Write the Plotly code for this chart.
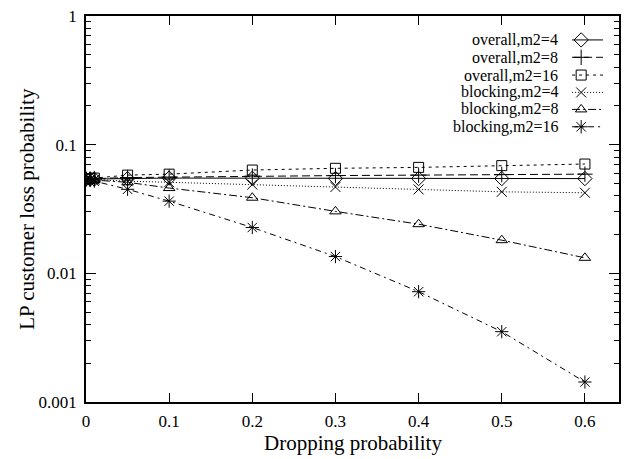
import plotly.graph_objects as go

# ---- data ----
drop_prob = [0, 0.005, 0.01, 0.05, 0.1, 0.2, 0.3, 0.4, 0.5, 0.6]
overall_m2_4 = [0.054, 0.054, 0.054, 0.0545, 0.055, 0.0548, 0.0546, 0.0545, 0.0545, 0.0545]
overall_m2_8 = [0.054, 0.054, 0.0545, 0.0555, 0.056, 0.057, 0.0575, 0.058, 0.0585, 0.059]
overall_m2_16 = [0.054, 0.0545, 0.055, 0.058, 0.059, 0.0635, 0.0655, 0.0666, 0.0687, 0.0707]
blocking_m2_4 = [0.054, 0.0538, 0.0535, 0.052, 0.051, 0.049, 0.0469, 0.0449, 0.043, 0.0423]
blocking_m2_8 = [0.054, 0.0535, 0.053, 0.051, 0.046, 0.0387, 0.0303, 0.0241, 0.0181, 0.0132]
blocking_m2_16 = [0.054, 0.053, 0.052, 0.045, 0.0364, 0.0227, 0.0135, 0.0072, 0.00352, 0.00143]

series_names = ["overall,m2=4", "overall,m2=8", "overall,m2=16",
                "blocking,m2=4", "blocking,m2=8", "blocking,m2=16"]
series_values = [overall_m2_4, overall_m2_8, overall_m2_16,
                 blocking_m2_4, blocking_m2_8, blocking_m2_16]

x_tick_vals = [0, 0.1, 0.2, 0.3, 0.4, 0.5, 0.6]
x_tick_text = ["0", "0.1", "0.2", "0.3", "0.4", "0.5", "0.6"]
y_tick_vals = [0.001, 0.01, 0.1, 1]
y_tick_text = ["0.001", "0.01", "0.1", "1"]

# ---- styles ----
symbols = ["diamond-open", "cross-thin-open", "square-open",
           "x-thin-open", "triangle-up-open", "asterisk-open"]
dashes = ["solid", "8px,4px", "3px,4px", "1px,2px", "8px,3px,2px,3px", "6px,4px,2px,4px"]
sizes = [11, 11, 10, 10, 10, 11]

FONT = "Liberation Serif, Times New Roman, serif"

fig = go.Figure()
for name, vals, sym, dash, sz in zip(series_names, series_values, symbols, dashes, sizes):
    fig.add_trace(go.Scatter(
        x=drop_prob, y=vals, mode="lines+markers", name=name,
        line=dict(color="black", width=1, dash=dash),
        marker=dict(symbol=sym, size=sz, color="black",
                    line=dict(color="black", width=1)),
        showlegend=False))

# ---- custom legend (text right-aligned, sample on the right) ----
leg_rows = [0.938, 0.893, 0.847, 0.802, 0.758, 0.713]
for i, (name, sym, dash, sz) in enumerate(zip(series_names, symbols, dashes, sizes)):
    ry = leg_rows[i]
    fig.add_trace(go.Scatter(
        x=[0.912, 0.970], y=[ry, ry], mode="lines", xaxis="x2", yaxis="y2",
        line=dict(color="black", width=1, dash=dash), showlegend=False,
        hoverinfo="skip"))
    fig.add_trace(go.Scatter(
        x=[0.929], y=[ry], mode="markers", xaxis="x2", yaxis="y2",
        marker=dict(symbol=sym, size=sz, color="black",
                    line=dict(color="black", width=1)),
        showlegend=False, hoverinfo="skip"))
    fig.add_annotation(x=0.889, y=ry, xref="x2", yref="y2", text=name,
                       showarrow=False, xanchor="right", yanchor="middle",
                       font=dict(family=FONT, size=16, color="black"))

axis_common = dict(showline=True, linecolor="black", linewidth=1.5,
                   mirror="ticks", ticks="inside", tickcolor="black",
                   showgrid=False, zeroline=False, automargin=False,
                   tickfont=dict(family=FONT, size=17, color="black"))

fig.update_layout(
    width=625, height=459,
    margin=dict(l=86, r=6, t=16, b=57),
    paper_bgcolor="white", plot_bgcolor="white",
    font=dict(family=FONT, color="black"),
    xaxis=dict(range=[0, 0.641], tickvals=x_tick_vals, ticktext=x_tick_text,
               ticklen=9, tickwidth=1, ticklabelstandoff=3, **axis_common),
    yaxis=dict(type="log", range=[-3, 0], tickvals=y_tick_vals, ticktext=y_tick_text,
               ticklen=10, tickwidth=1, ticklabelstandoff=4,
               minor=dict(ticks="inside", ticklen=5, tickcolor="black", dtick="D1",
                          showgrid=False),
               **axis_common),
    xaxis2=dict(overlaying="x", range=[0, 1], visible=False, fixedrange=True),
    yaxis2=dict(overlaying="y", range=[0, 1], visible=False, fixedrange=True),
)

fig.add_annotation(x=0.5, y=-0.07, xref="paper", yref="paper",
                   text="Dropping probability", showarrow=False,
                   xanchor="center", yanchor="top",
                   font=dict(family=FONT, size=21, color="black"))
fig.add_annotation(x=-0.111, y=0.5, xref="paper", yref="paper",
                   text="LP customer loss probability", showarrow=False,
                   textangle=-90, xanchor="center", yanchor="middle",
                   font=dict(family=FONT, size=21, color="black"))

fig.write_html(
    "out.html",
    config={"displayModeBar": False},
    post_script="document.body.style.margin='0';document.body.style.overflow='hidden';",
)
